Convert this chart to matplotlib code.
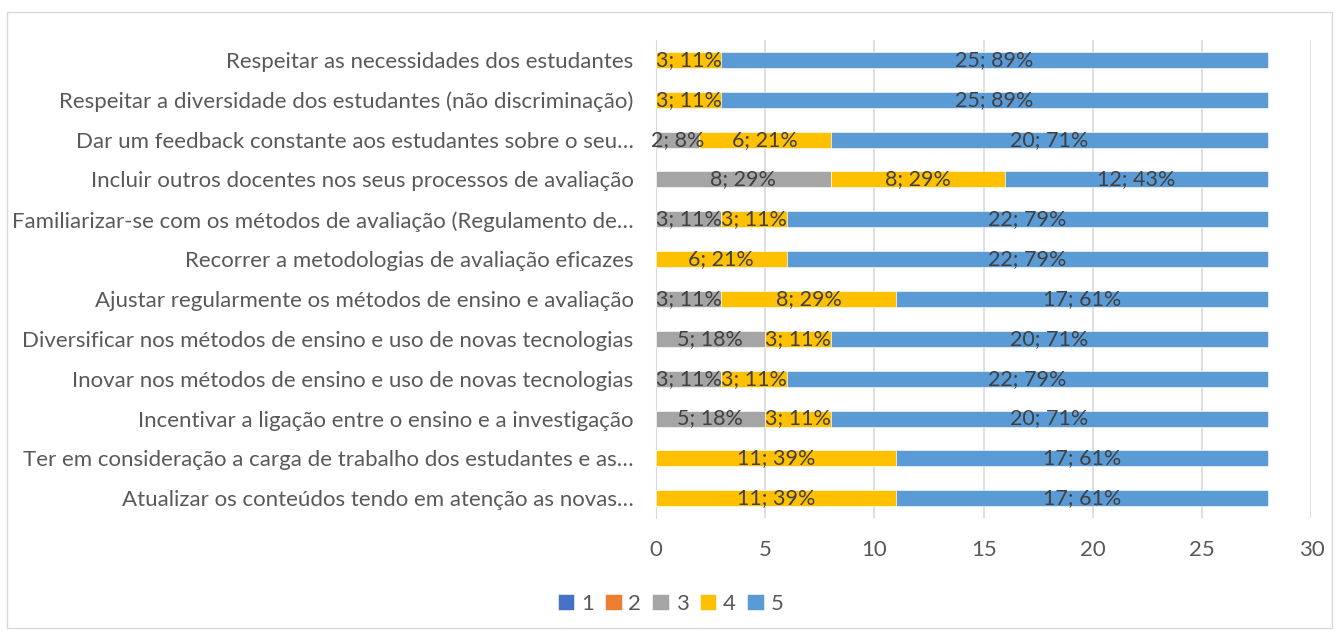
import matplotlib.pyplot as plt
import numpy as np
from matplotlib.patches import Rectangle

plt.rcParams['font.family'] = ['Lato', 'DejaVu Sans']

# categories, bottom to top
categories = [
    'Atualizar os conteúdos tendo em atenção as novas…',
    'Ter em consideração a carga de trabalho dos estudantes e as…',
    'Incentivar a ligação entre o ensino e a investigação',
    'Inovar nos métodos de ensino e uso de novas tecnologias',
    'Diversificar nos métodos de ensino e uso de novas tecnologias',
    'Ajustar regularmente os métodos de ensino e avaliação',
    'Recorrer a metodologias de avaliação eficazes',
    'Familiarizar-se com os métodos de avaliação (Regulamento de…',
    'Incluir outros docentes nos seus processos de avaliação',
    'Dar um feedback constante aos estudantes sobre o seu…',
    'Respeitar a diversidade dos estudantes (não discriminação)',
    'Respeitar as necessidades dos estudantes',
]

s1 = [0, 0, 0, 0, 0, 0, 0, 0, 0, 0, 0, 0]
s2 = [0, 0, 0, 0, 0, 0, 0, 0, 0, 0, 0, 0]
s3 = [0, 0, 5, 3, 5, 3, 0, 3, 8, 2, 0, 0]
s4 = [11, 11, 3, 3, 3, 8, 6, 3, 8, 6, 3, 3]
s5 = [17, 17, 20, 22, 20, 17, 22, 22, 12, 20, 25, 25]

p3 = [0, 0, 18, 11, 18, 11, 0, 11, 29, 8, 0, 0]
p4 = [39, 39, 11, 11, 11, 29, 21, 11, 29, 21, 11, 11]
p5 = [61, 61, 71, 79, 71, 61, 79, 79, 43, 71, 89, 89]

series_names = ['1', '2', '3', '4', '5']
colors = ['#4472C4', '#ED7D31', '#A5A5A5', '#FFC000', '#5B9BD5']

fig = plt.figure(figsize=(13.41, 6.35), dpi=100)
ax = fig.add_axes([0.489, 0.184, 0.489, 0.753])

y = np.arange(len(categories))
left = np.zeros(len(categories))
values = [s1, s2, s3, s4, s5]
pcts = [None, None, p3, p4, p5]
for name, vals, pc, col in zip(series_names, values, pcts, colors):
    vals = np.array(vals, dtype=float)
    ax.barh(y, vals, left=left, height=0.4, color=col, label=name,
            edgecolor='white', linewidth=0.4, zorder=3)
    if pc is not None:
        for i, v in enumerate(vals):
            if v > 0:
                ax.text(left[i] + v / 2, y[i], '%d; %d%%' % (v, pc[i]),
                        ha='center', va='center', fontsize=15.5,
                        color='#404040', zorder=4)
    left += vals

ax.set_xlim(0, 30)
ax.set_ylim(-0.5, len(categories) - 0.5)
ax.set_xticks(range(0, 31, 5))
ax.set_yticks(y)
ax.set_yticklabels(categories)
ax.tick_params(axis='both', length=0, labelsize=16, colors='#595959')
ax.tick_params(axis='y', pad=16)
ax.tick_params(axis='x', pad=16)
ax.grid(axis='x', color='#D9D9D9', linewidth=1.2, zorder=0)
for sp in ['top', 'right', 'bottom']:
    ax.spines[sp].set_visible(False)
ax.spines['left'].set_color('#D9D9D9')

ax.legend(loc='center', bbox_to_anchor=(0.5, 0.049), bbox_transform=fig.transFigure,
          ncol=5, frameon=False, fontsize=16, handlelength=0.75, handleheight=0.75,
          handletextpad=0.3, columnspacing=0.5, labelcolor='#595959')

fig.patches.append(Rectangle((0.005, 0.011), 0.988, 0.97, transform=fig.transFigure,
                             fill=False, edgecolor='#D9D9D9', linewidth=1))

fig.savefig('out.png', dpi=100)
